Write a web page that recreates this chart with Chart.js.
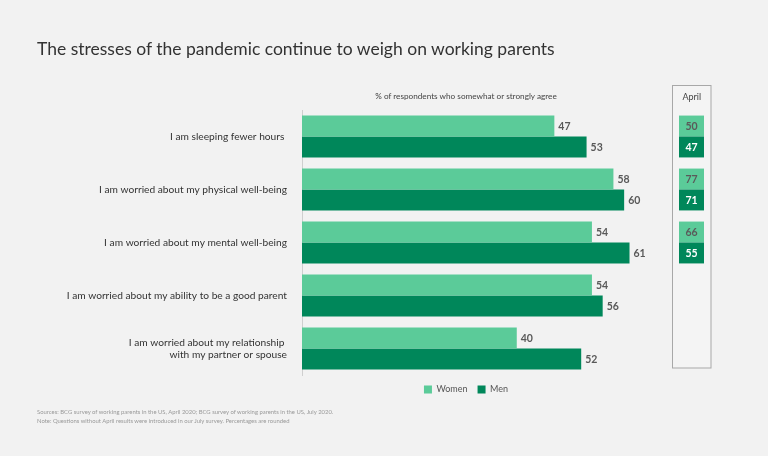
<!DOCTYPE html>
<html>
<head>
<meta charset="utf-8">
<script src="https://cdn.jsdelivr.net/npm/chart.js@4.4.0/dist/chart.umd.min.js"></script>
<style>
  html, body { margin: 0; padding: 0; background: #f2f2f2; }
  #wrap { position: relative; width: 768px; height: 456px; font-family: Lato, sans-serif; }
  #title { position: absolute; left: 37px; top: 38px; font-size: 17.5px; color: #333; }
  #sub { position: absolute; left: 302px; width: 328px; top: 91px; text-align: center; font-size: 8.2px; color: #444; }
  #notes { position: absolute; left: 37px; top: 407px; font-size: 5.9px; line-height: 9px; color: #999; }
  canvas { position: absolute; left: 0; top: 0; }
</style>
</head>
<body>
<div id="wrap">
  <canvas id="myChart" width="768" height="456"></canvas>
  <div id="title">The stresses of the pandemic continue to weigh on working parents</div>
  <div id="sub">% of respondents who somewhat or strongly agree</div>
  <div id="notes">Sources: BCG survey of working parents in the US, April 2020; BCG survey of working parents in the US, July 2020.<br>Note: Questions without April results were introduced in our July survey. Percentages are rounded</div>
</div>
<script>
const ctx = document.getElementById('myChart');

// data
var categories = [
    'I am sleeping fewer hours ',
    'I am worried about my physical well-being',
    'I am worried about my mental well-being',
    'I am worried about my ability to be a good parent',
    ['I am worried about my relationship ', 'with my partner or spouse']
];
var julyWomen = [47, 58, 54, 54, 40];
var julyMen = [53, 60, 61, 56, 52];
var aprilWomen = [50, 77, 66, null, null];
var aprilMen = [47, 71, 55, null, null];

var lightGreen = '#5bcb99';
var darkGreen = '#00875a';

// value labels at the end of each bar
var valueLabels = {
    id: 'valueLabels',
    afterDatasetsDraw: function(chart) {
        var c = chart.ctx;
        c.save();
        c.font = 'bold 10.5px Lato';
        c.fillStyle = '#595959';
        c.textBaseline = 'middle';
        chart.data.datasets.forEach(function(ds, i) {
            chart.getDatasetMeta(i).data.forEach(function(bar, j) {
                c.fillText(ds.data[j], bar.x + 4, bar.y + 1);
            });
        });
        c.restore();
    }
};

// center the legend under the bars
var legendUnderBars = {
    id: 'legendUnderBars',
    afterLayout: function(chart) {
        chart.legend.left = chart.chartArea.left;
        chart.legend.right = 630;
    }
};

// April panel on the right
var aprilPanel = {
    id: 'aprilPanel',
    afterDraw: function(chart) {
        var c = chart.ctx;
        var left = 672.5, right = 711, top = 85.5, bottom = 368;
        c.save();
        c.fillStyle = '#f4f4f4';
        c.fillRect(left, top, right - left, bottom - top);
        c.strokeStyle = '#a8a8a8';
        c.lineWidth = 1;
        c.strokeRect(left, top, right - left, bottom - top);
        c.fillStyle = '#444';
        c.font = '9px Lato';
        c.textAlign = 'center';
        c.textBaseline = 'middle';
        c.fillText('April', (left + right) / 2, 97);

        var cellX = 679, cellW = 25;
        var metaW = chart.getDatasetMeta(0);
        var metaM = chart.getDatasetMeta(1);
        c.font = 'bold 10.5px Lato';
        for (var j = 0; j < categories.length; j++) {
            if (aprilWomen[j] == null) continue;
            var bw = metaW.data[j], bm = metaM.data[j];
            c.fillStyle = lightGreen;
            c.fillRect(cellX, bw.y - bw.height / 2, cellW, bw.height);
            c.fillStyle = darkGreen;
            c.fillRect(cellX, bm.y - bm.height / 2, cellW, bm.height);
            c.fillStyle = '#5a5a5a';
            c.fillText(aprilWomen[j], cellX + cellW / 2, bw.y + 1);
            c.fillStyle = '#ffffff';
            c.fillText(aprilMen[j], cellX + cellW / 2, bm.y + 1);
        }
        c.restore();
    }
};

new Chart(ctx, {
    type: 'bar',
    data: {
        labels: categories,
        datasets: [{
            label: 'Women',
            data: julyWomen,
            backgroundColor: lightGreen,
            borderWidth: 0
        },
        {
            label: 'Men',
            data: julyMen,
            backgroundColor: darkGreen,
            borderWidth: 0
        }]
    },
    options: {
        indexAxis: 'y',
        responsive: false,
        animation: false,
        categoryPercentage: 0.79,
        barPercentage: 1.0,
        layout: {
            padding: { left: 0, right: 117, top: 110, bottom: 52 }
        },
        scales: {
            x: {
                display: false,
                min: 0,
                max: 65
            },
            y: {
                afterFit: function(scale) { scale.width = 302; },
                grid: { display: false, drawTicks: false },
                border: { display: true, color: '#cfcfcf', width: 1 },
                ticks: {
                    padding: 15,
                    color: '#333',
                    font: { family: 'Lato', size: 10.2 }
                }
            }
        },
        plugins: {
            legend: {
                position: 'bottom',
                labels: {
                    boxWidth: 8,
                    boxHeight: 8,
                    padding: 10,
                    color: '#555',
                    font: { family: 'Lato', size: 9 }
                }
            },
            tooltip: { enabled: false }
        }
    },
    plugins: [valueLabels, legendUnderBars, aprilPanel]
});
</script>
</body>
</html>
